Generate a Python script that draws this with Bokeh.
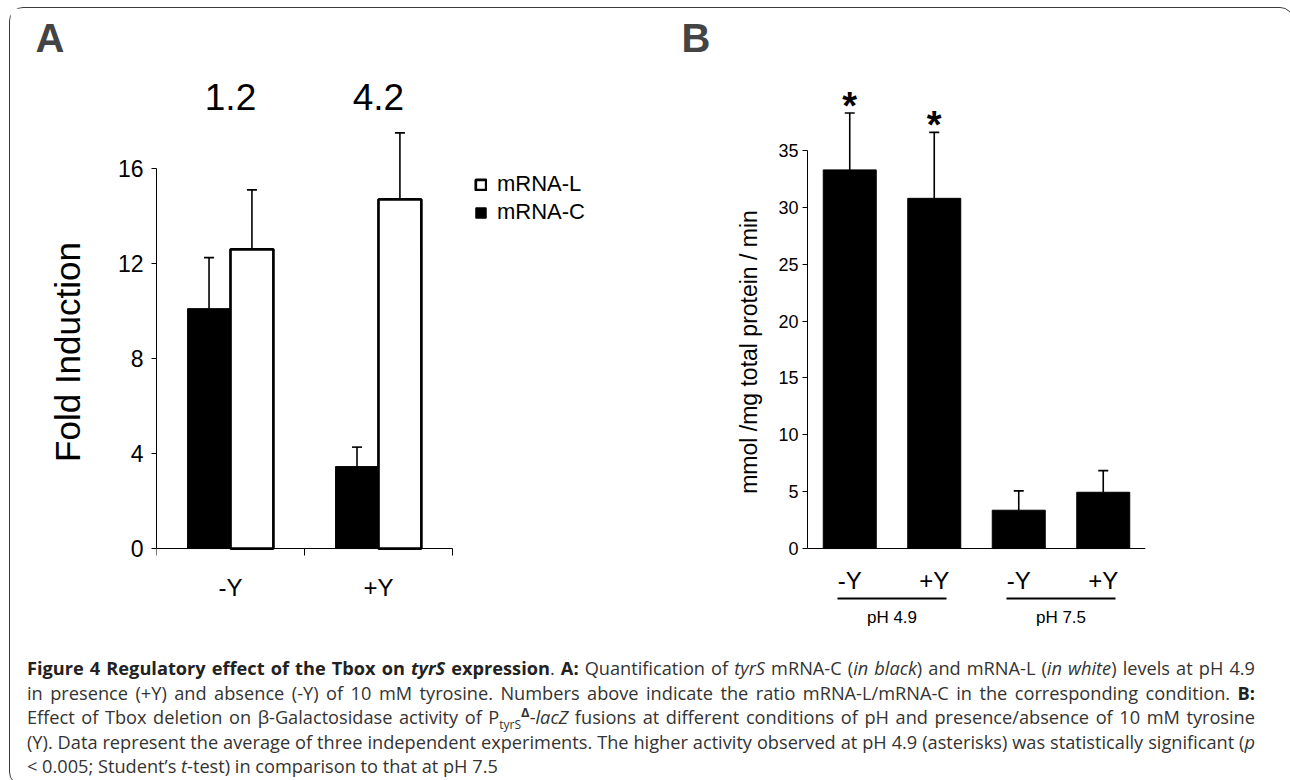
from bokeh.plotting import figure
from bokeh.models import (ColumnDataSource, FactorRange, Range1d, FixedTicker,
                          Whisker, TeeHead, Legend, LegendItem, Div)
from bokeh.layouts import row, column
from bokeh.transform import dodge
from bokeh.core.properties import value
from bokeh.embed import file_html
from bokeh.resources import INLINE

# ---------------- data: panel A ----------------
conditions_a = ["-Y", "+Y"]
mrna_c = [10.1, 3.45]          # black bars
mrna_c_err = [2.15, 0.82]
mrna_l = [12.6, 14.7]          # white bars
mrna_l_err = [2.5, 2.8]
ratio_labels = ["1.2", "4.2"]
yticks_a = [0, 4, 8, 12, 16]

# ---------------- data: panel B ----------------
ph_groups = ["pH 4.9", "pH 4.9", "pH 7.5", "pH 7.5"]
tyrosine = ["-Y", "+Y", "-Y", "+Y"]
activity = [33.3, 30.8, 3.37, 4.95]
activity_err = [5.0, 5.8, 1.7, 1.9]
significance = ["*", "*", "", ""]
yticks_b = [0, 5, 10, 15, 20, 25, 30, 35]

ARIAL = "Liberation Sans"

# ---------------- panel A ----------------
nA = len(conditions_a)
pA = figure(width=631, height=631, title="A",
            x_range=Range1d(0, nA + 1.21), y_range=Range1d(-3.83, 20.38),
            output_backend="svg", toolbar_location=None,
            min_border_left=146, min_border_right=10, min_border_top=56, min_border_bottom=0)
pA.grid.visible = False
pA.outline_line_color = None
pA.title.text_font = ARIAL
pA.title.text_font_size = "40px"
pA.title.text_font_style = "bold"
pA.title.align = "left"
pA.title.offset = -121
pA.title.standoff = 10

srcA = ColumnDataSource(dict(
    x=[i + 0.5 for i in range(nA)],
    c=mrna_c, c_up=[v + e for v, e in zip(mrna_c, mrna_c_err)],
    l=mrna_l, l_up=[v + e for v, e in zip(mrna_l, mrna_l_err)],
    ratio=ratio_labels))

rc = pA.vbar(x=dodge("x", -0.145, range=pA.x_range), top="c", width=0.29,
             fill_color="black", line_color="black", line_width=1, source=srcA)
rl = pA.vbar(x=dodge("x", 0.145, range=pA.x_range), top="l", width=0.29,
             fill_color="white", line_color="black", line_width=2.7, source=srcA)

for fld, up, off in (("c", "c_up", -0.145), ("l", "l_up", 0.145)):
    w = Whisker(base=dodge("x", off, range=pA.x_range), lower=fld, upper=up, source=srcA,
                dimension="height", line_width=1.6, line_color="black",
                upper_head=TeeHead(size=10, line_width=1.6, line_color="black"),
                lower_head=None, level="annotation")
    pA.add_layout(w)

pA.text(x="x", y=19.0, text="ratio", source=srcA, text_font=value(ARIAL),
        text_font_size="37px", text_align="center", text_baseline="middle", text_color="black")

xa = pA.xaxis[0]
xa.fixed_location = 0
xa.bounds = (0, nA)
xa.ticker = FixedTicker(ticks=[i + 0.5 for i in range(nA)],
                        minor_ticks=list(range(nA + 1)))
xa.major_label_overrides = {i + 0.5: c for i, c in enumerate(conditions_a)}
xa.major_tick_line_color = None
xa.major_tick_out = 0
xa.major_tick_in = 0
xa.minor_tick_in = 0
xa.minor_tick_out = 7
xa.minor_tick_line_color = "black"
xa.axis_line_color = "black"
xa.major_label_text_font = ARIAL
xa.major_label_text_font_size = "24px"
xa.major_label_text_color = "black"
xa.major_label_standoff = 18

ya = pA.yaxis[0]
ya.ticker = FixedTicker(ticks=yticks_a)
ya.bounds = (0, 16)
ya.major_tick_out = 5
ya.major_tick_in = 0
ya.minor_tick_line_color = None
ya.major_label_text_font = ARIAL
ya.major_label_text_font_size = "23px"
ya.major_label_text_color = "black"
ya.major_label_standoff = 8
ya.axis_label = "Fold Induction"
ya.axis_label_text_font = ARIAL
ya.axis_label_text_font_size = "35px"
ya.axis_label_text_font_style = "normal"
ya.axis_label_text_color = "black"
ya.axis_label_standoff = 28

legA = Legend(items=[LegendItem(label="mRNA-L", renderers=[rl]),
                     LegendItem(label="mRNA-C", renderers=[rc])],
              location=(318, 413), glyph_width=13, glyph_height=13,
              label_text_font=ARIAL, label_text_font_size="22px", label_text_color="black",
              label_standoff=10, label_height=28, spacing=0, padding=0, margin=0,
              border_line_color=None, background_fill_alpha=0)
pA.add_layout(legA)

# ---------------- panel B ----------------
factors = list(zip(ph_groups, tyrosine))
ph_levels = list(dict.fromkeys(ph_groups))
pB = figure(width=642, height=631, title="B",
            x_range=FactorRange(*factors, factor_padding=0, group_padding=0, range_padding=0),
            y_range=Range1d(-8.0, 42.57),
            output_backend="svg", toolbar_location=None,
            min_border_left=166, min_border_right=138, min_border_top=56, min_border_bottom=0)
pB.grid.visible = False
pB.outline_line_color = None
pB.title.text_font = ARIAL
pB.title.text_font_size = "40px"
pB.title.text_font_style = "bold"
pB.title.align = "left"
pB.title.offset = -126
pB.title.standoff = 10

srcB = ColumnDataSource(dict(
    f=factors, v=activity, up=[v + e for v, e in zip(activity, activity_err)],
    star=significance))
pB.vbar(x="f", top="v", width=0.627, fill_color="black", line_color="black", source=srcB)
pB.add_layout(Whisker(base="f", lower="v", upper="up", source=srcB, dimension="height",
                      line_width=1.6, line_color="black",
                      upper_head=TeeHead(size=10, line_width=1.6, line_color="black"),
                      lower_head=None, level="annotation"))
pB.text(x="f", y="up", text="star", source=srcB, text_font=value(ARIAL),
        text_font_size="38px", text_font_style="bold", text_align="center",
        text_baseline="alphabetic", y_offset=-7, text_color="black")

pB.rect(x=ph_levels, y=-4.4, width=1.29, height=2, height_units="screen",
        fill_color="black", line_color=None)
pB.text(x=ph_levels, y=-6.07, text=ph_levels, text_font=value(ARIAL),
        text_font_size="17px", text_align="center", text_baseline="middle", text_color="black")

xb = pB.xaxis[0]
xb.fixed_location = 0
xb.major_tick_line_color = None
xb.major_tick_out = 0
xb.major_tick_in = 0
xb.separator_line_color = None
xb.group_text_alpha = 0
xb.axis_line_color = "black"
xb.major_label_text_font = ARIAL
xb.major_label_text_font_size = "24px"
xb.major_label_text_color = "black"
xb.major_label_standoff = 18

yb = pB.yaxis[0]
yb.ticker = FixedTicker(ticks=yticks_b)
yb.bounds = (0, 35)
yb.major_tick_out = 5
yb.major_tick_in = 0
yb.minor_tick_line_color = None
yb.major_label_text_font = ARIAL
yb.major_label_text_font_size = "18px"
yb.major_label_text_color = "black"
yb.major_label_standoff = 4
yb.axis_label = "mmol /mg total protein / min"
yb.axis_label_text_font = ARIAL
yb.axis_label_text_font_size = "23px"
yb.axis_label_text_font_style = "normal"
yb.axis_label_text_color = "black"
yb.axis_label_standoff = 13

# ---------------- caption ----------------
J = 'text-align:justify;text-align-last:justify;'
caption_lines = [
    '<b style="color:#222">Figure 4 Regulatory effect of the Tbox on <i>tyrS</i> expression</b>. '
    '<b style="color:#222">A:</b> Quantification of <i>tyrS</i> mRNA-C (<i>in black</i>) and mRNA-L '
    '(<i>in white</i>) levels at pH 4.9',
    'in presence (+Y) and absence (-Y) of 10 mM tyrosine. Numbers above indicate the ratio '
    'mRNA-L/mRNA-C in the corresponding condition. <b style="color:#222">B:</b>',
    'Effect of Tbox deletion on &beta;-Galactosidase activity of '
    'P<sub style="font-size:12px;line-height:0">tyrS</sub><sup style="font-size:13px;line-height:0">'
    '<b>&Delta;</b></sup>-<i>lacZ</i> fusions at different conditions of pH and presence/absence of '
    '10 mM tyrosine',
    '(Y). Data represent the average of three independent experiments. The higher activity observed '
    'at pH 4.9 (asterisks) was statistically significant (<i>p</i>',
    '&lt; 0.005; Student&rsquo;s <i>t</i>-test) in comparison to that at pH 7.5',
]
caption = ('<div style="font-family:\'Open Sans\',sans-serif;font-size:18.2px;line-height:24.6px;'
           'color:#333;width:1240px;padding:12px 0 0 12px;">'
           + ''.join('<div style="%s">%s</div>' % (J if i < len(caption_lines) - 1 else 'text-align:left;', t)
                     for i, t in enumerate(caption_lines))
           + '</div>')
div = Div(text=caption, width=1273, height=136)

layout = column(row(pA, pB), div, margin=(7, 0, 0, 9),
                styles={"border": "1.5px solid #3a3a3a", "border-radius": "14px"})

open("out.html", "w").write(file_html(layout, INLINE))
